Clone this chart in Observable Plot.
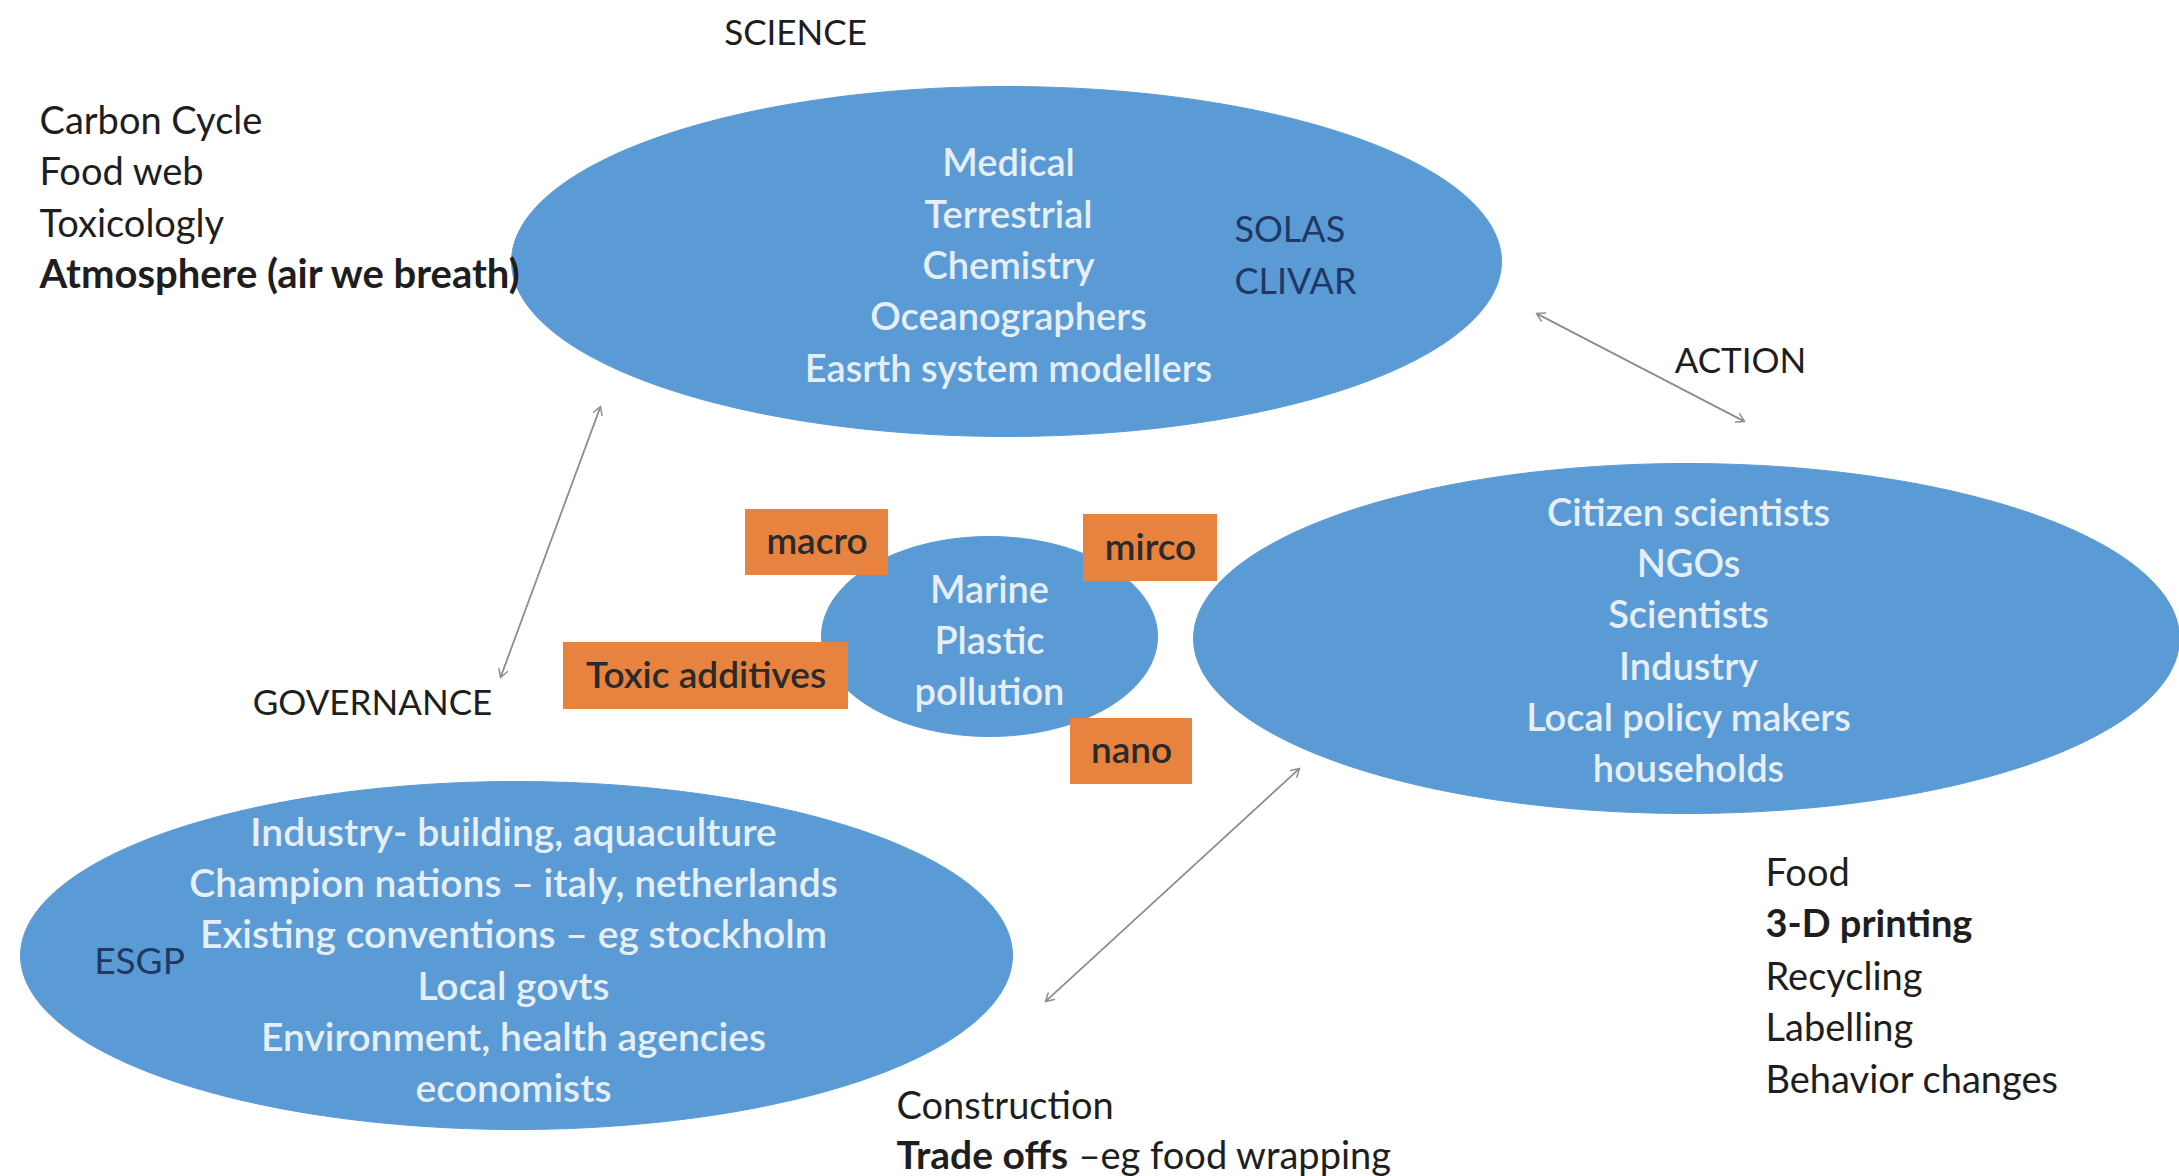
<!DOCTYPE html>
<html><head><meta charset="utf-8">
<script src="https://cdn.jsdelivr.net/npm/d3@7"></script>
<script src="https://cdn.jsdelivr.net/npm/@observablehq/plot@0.6"></script>
<style>html,body{margin:0;padding:0;background:#fff;overflow:hidden}</style>
</head><body><div id="chart"></div>
<script>
// ---- content (text) ----
const pillars = ["SCIENCE", "ACTION", "GOVERNANCE"];
const scienceFields = ["Medical", "Terrestrial", "Chemistry", "Oceanographers", "Easrth system modellers"];
const sciencePrograms = ["SOLAS", "CLIVAR"];
const scienceTopics = ["Carbon Cycle", "Food web", "Toxicologly", "Atmosphere (air we breath)"];
const scienceTopicsBold = [false, false, false, true];
const actionActors = ["Citizen scientists", "NGOs", "Scientists", "Industry", "Local policy makers", "households"];
const actionTopics = ["Food", "3-D printing", "Recycling", "Labelling", "Behavior changes"];
const actionTopicsBold = [false, true, false, false, false];
const governanceActors = ["Industry- building, aquaculture", "Champion nations \u2013 italy, netherlands", "Existing conventions \u2013 eg stockholm", "Local govts", "Environment, health agencies", "economists"];
const governanceProgram = ["ESGP"];
const governanceTopics = ["Construction", "Trade offs", "\u2013eg food wrapping"];
const centreLabel = ["Marine", "Plastic", "pollution"];
const plasticTypes = ["macro", "mirco", "Toxic additives", "nano"];

// ---- layout (pixel space of the 2179 x 1176 picture) ----
const ellipseNames = ["science", "action", "governance", "centre"];
const ellipseCx = [1006, 1686, 516, 989];
const ellipseCy = [261, 638, 955, 636];
const ellipseRx = [495, 493, 496, 168];
const ellipseRy = [175, 175, 174, 100];

const boxX1 = [745, 1083, 563, 1070];
const boxX2 = [888, 1217, 848, 1192];
const boxY1 = [509, 514, 642, 718];
const boxY2 = [575, 581, 709, 784];

const pillarX = [795, 1740, 372];
const pillarY = [33, 361, 703];

const arrowX1 = [1536, 600, 1299];
const arrowY1 = [313, 406, 768];
const arrowX2 = [1744, 500, 1045];
const arrowY2 = [421, 677, 1001];

const scienceTopicY = [121, 172, 224, 275];
const actionTopicY = [873, 924, 977, 1028, 1080];

// ---- build tables ----
const ellipses = ellipseNames.map((name, i) => ({name, cx: ellipseCx[i], cy: ellipseCy[i], rx: ellipseRx[i], ry: ellipseRy[i]}));
const outline = ellipses.flatMap(e => d3.range(0, 360, 2).map(a => ({
  name: e.name,
  x: e.cx + e.rx * Math.cos(a * Math.PI / 180),
  y: e.cy + e.ry * Math.sin(a * Math.PI / 180)
})));
const boxes = plasticTypes.map((t, i) => ({t, x1: boxX1[i], x2: boxX2[i], y1: boxY1[i], y2: boxY2[i], cx: (boxX1[i] + boxX2[i]) / 2, cy: (boxY1[i] + boxY2[i]) / 2}));
const pillarRows = pillars.map((t, i) => ({t, x: pillarX[i], y: pillarY[i]}));
const arrows = arrowX1.map((x, i) => ({x1: x, y1: arrowY1[i], x2: arrowX2[i], y2: arrowY2[i]}));
const sciTopicRows = scienceTopics.map((t, i) => ({t, y: scienceTopicY[i], bold: scienceTopicsBold[i]}));
const actTopicRows = actionTopics.map((t, i) => ({t, y: actionTopicY[i], bold: actionTopicsBold[i]}));

const blue = "#5b9bd5";
const inner = "#e6eff8";
const navy = "#1f3864";
const orange = "#e8823f";
const ink = "#1e1e1e";
const font = "Lato, 'Open Sans', sans-serif";
const fs = 38;
const lh = 1.35;

const [sci, act, gov, cen] = ellipses;

const chart = Plot.plot({
  width: 2179,
  height: 1176,
  margin: 0,
  x: {domain: [0, 2179], axis: null},
  y: {domain: [0, 1176], reverse: true, axis: null},
  style: {fontFamily: font, background: "#fff"},
  marks: [
    Plot.line(outline, {x: "x", y: "y", z: "name", fill: blue, stroke: blue, strokeWidth: 1, curve: "linear-closed"}),
    Plot.rect(boxes, {x1: "x1", x2: "x2", y1: "y1", y2: "y2", fill: orange}),
    Plot.text(boxes, {x: "cx", y: "cy", text: "t", fill: "#2a2a2a", fontSize: fs - 1, fontWeight: 600}),
    // arrows (double headed)
    Plot.arrow(arrows, {x1: "x1", y1: "y1", x2: "x2", y2: "y2", stroke: "#8f8f8f", strokeWidth: 1.5, headLength: 9, bend: 0}),
    Plot.arrow(arrows, {x1: "x2", y1: "y2", x2: "x1", y2: "y1", stroke: "#8f8f8f", strokeWidth: 1.5, headLength: 9, bend: 0}),
    // pillar labels
    Plot.text(pillarRows, {x: "x", y: "y", text: "t", fill: ink, fontSize: fs - 3}),
    // science ellipse content
    Plot.text([scienceFields.join("\n")], {x: sci.cx + 2, y: sci.cy + 1, text: d => d, fill: inner, fontSize: fs, fontWeight: 600, lineHeight: lh}),
    Plot.text([sciencePrograms.join("\n")], {x: 1234, y: 251, text: d => d, fill: navy, fontSize: fs - 2, textAnchor: "start", lineHeight: lh * fs / (fs - 2)}),
    Plot.text(sciTopicRows.filter(d => !d.bold), {x: 39, y: "y", text: "t", fill: ink, fontSize: fs, textAnchor: "start"}),
    Plot.text(sciTopicRows.filter(d => d.bold), {x: 39, y: "y", text: "t", fill: ink, fontSize: fs + 2, fontWeight: 700, textAnchor: "start"}),
    // action ellipse content
    Plot.text([actionActors.join("\n")], {x: act.cx + 2, y: 637, text: d => d, fill: inner, fontSize: fs, fontWeight: 600, lineHeight: lh}),
    Plot.text(actTopicRows.filter(d => !d.bold), {x: 1765, y: "y", text: "t", fill: ink, fontSize: fs, textAnchor: "start"}),
    Plot.text(actTopicRows.filter(d => d.bold), {x: 1765, y: "y", text: "t", fill: ink, fontSize: fs, fontWeight: 700, textAnchor: "start"}),
    // governance ellipse content
    Plot.text([governanceActors.join("\n")], {x: gov.cx - 3, y: 957, text: d => d, fill: inner, fontSize: fs + 1, fontWeight: 600, lineHeight: lh * fs / (fs + 1)}),
    Plot.text(governanceProgram, {x: 139, y: 962, text: d => d, fill: navy, fontSize: fs - 1}),
    Plot.text([governanceTopics[0]], {x: 896, y: 1106, text: d => d, fill: ink, fontSize: fs, textAnchor: "start"}),
    Plot.text([governanceTopics[1]], {x: 896, y: 1156, text: d => d, fill: ink, fontSize: fs + 1, fontWeight: 700, textAnchor: "start"}),
    Plot.text([governanceTopics[2]], {x: 1078, y: 1156, text: d => d, fill: ink, fontSize: fs, textAnchor: "start"}),
    // centre
    Plot.text([centreLabel.join("\n")], {x: cen.cx, y: cen.cy + 1, text: d => d, fill: inner, fontSize: fs, fontWeight: 600, lineHeight: lh})
  ]
});
document.getElementById("chart").appendChild(chart);
</script>
</body></html>
